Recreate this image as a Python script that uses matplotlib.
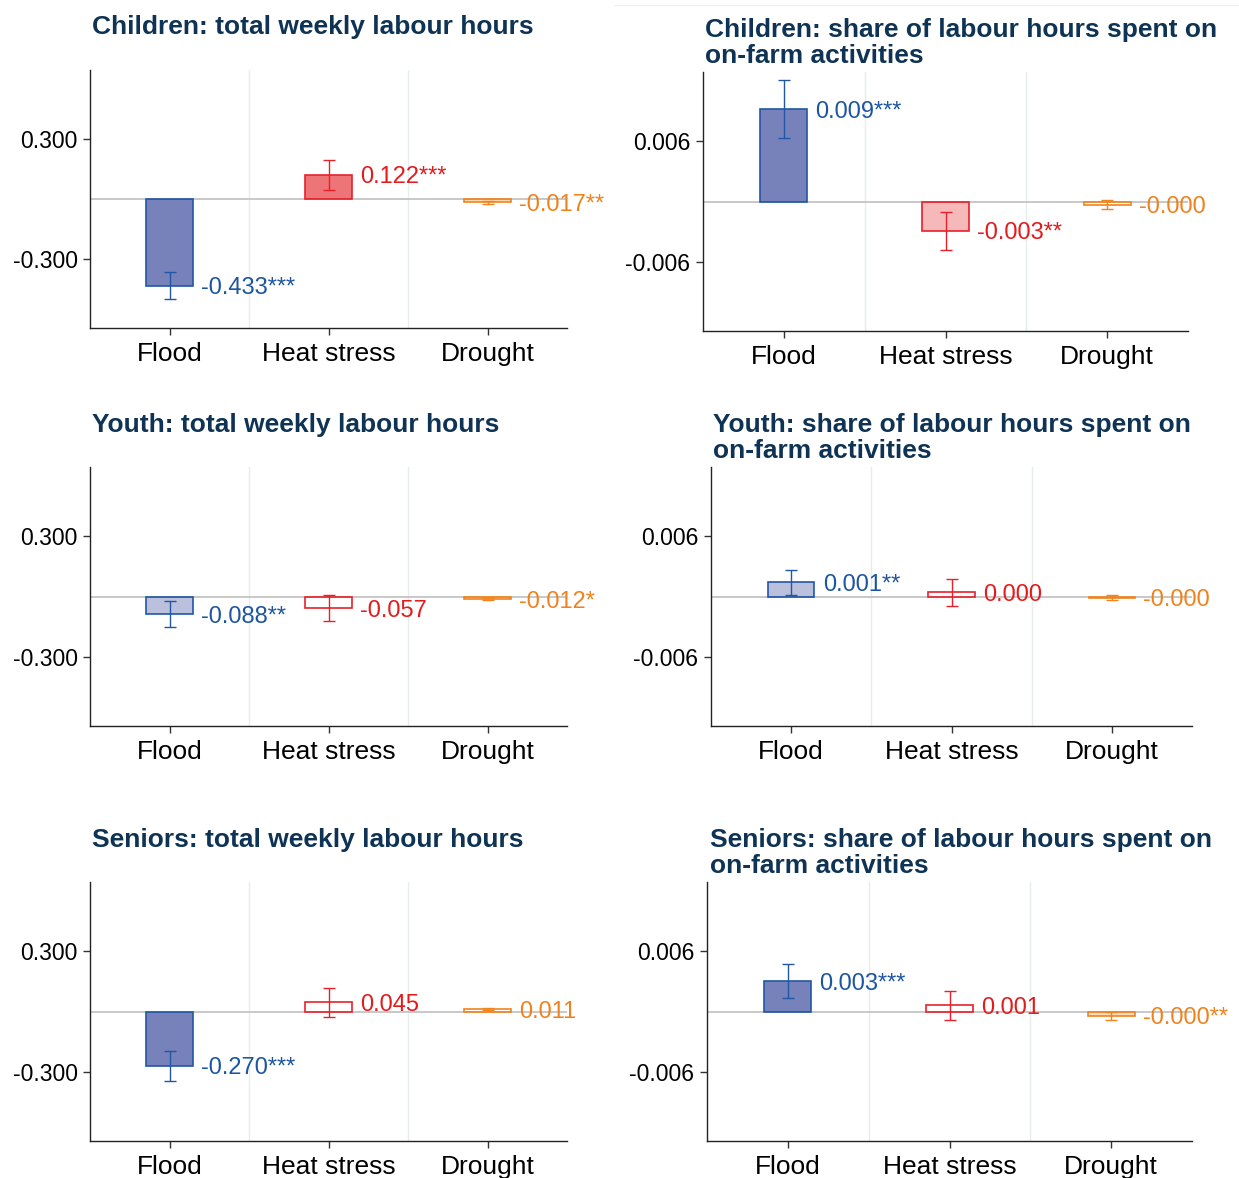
import matplotlib
matplotlib.use("Agg")
import matplotlib.pyplot as plt
from matplotlib.lines import Line2D

plt.rcParams['font.family'] = ['Liberation Sans', 'DejaVu Sans']

W, H = 1239, 1178

categories = ["Flood", "Heat stress", "Drought"]

titles = [
    "Children: total weekly labour hours",
    "Children: share of labour hours spent on\non-farm activities",
    "Youth: total weekly labour hours",
    "Youth: share of labour hours spent on\non-farm activities",
    "Seniors: total weekly labour hours",
    "Seniors: share of labour hours spent on\non-farm activities",
]

# coefficients, half-width of the confidence bars, significance stars
children_total = [-0.433, 0.122, -0.017]
children_total_ci = [0.067, 0.075, 0.008]
children_total_stars = ["***", "***", "**"]

children_share = [0.0092, -0.0029, -0.0003]
children_share_ci = [0.0029, 0.0019, 0.0004]
children_share_stars = ["***", "**", ""]

youth_total = [-0.088, -0.057, -0.012]
youth_total_ci = [0.065, 0.065, 0.006]
youth_total_stars = ["**", "", "*"]

youth_share = [0.0014, 0.0004, -0.0001]
youth_share_ci = [0.00125, 0.0013, 0.0002]
youth_share_stars = ["**", "", ""]

seniors_total = [-0.270, 0.045, 0.011]
seniors_total_ci = [0.075, 0.073, 0.006]
seniors_total_stars = ["***", "", ""]

seniors_share = [0.0030, 0.0006, -0.0004]
seniors_share_ci = [0.0017, 0.0014, 0.0004]
seniors_share_stars = ["***", "", "**"]

panels = [
    (children_total, children_total_ci, children_total_stars, 0.3),
    (children_share, children_share_ci, children_share_stars, 0.006),
    (youth_total, youth_total_ci, youth_total_stars, 0.3),
    (youth_share, youth_share_ci, youth_share_stars, 0.006),
    (seniors_total, seniors_total_ci, seniors_total_stars, 0.3),
    (seniors_share, seniors_share_ci, seniors_share_stars, 0.006),
]

# axes boxes in pixels: left, top, right, bottom
boxes = [
    (90, 70, 567, 328),
    (703, 72, 1188, 331),
    (90, 467, 567, 726),
    (711, 467, 1192, 726),
    (90, 882, 567, 1141),
    (707, 882, 1192, 1141),
]
title_pos = [(92, 27), (705, 43), (92, 425), (713, 438), (92, 840), (710, 853)]

edge_colors = ["#2157a4", "#e8202a", "#f0841e"]
fill_colors = ["#1f2f8c", "#e41a1c", "#f28a24"]
text_colors = ["#1d55a0", "#e41a1c", "#f0821e"]
star_alpha = {"***": 0.6, "**": 0.3, "*": 0.15, "": 0.0}
title_color = "#0e3354"

fig = plt.figure(figsize=(W / 100, H / 100), dpi=100)
fig.add_artist(Line2D([615 / W, 1], [1 - 5 / H, 1 - 5 / H], color="#efefef", lw=1))

for k, (vals, ci, stars, tick) in enumerate(panels):
    l, t, r, b = boxes[k]
    ax = fig.add_axes([l / W, 1 - b / H, (r - l) / W, (b - t) / H])
    x = range(len(categories))
    for i in x:
        ax.bar(i, vals[i], width=0.29, color=fill_colors[i], alpha=star_alpha[stars[i]],
               zorder=3, linewidth=0)
        ax.bar(i, vals[i], width=0.29, facecolor="none", edgecolor=edge_colors[i],
               linewidth=1.2, zorder=4)
        ax.errorbar(i, vals[i], yerr=ci[i], color=edge_colors[i], lw=1, capsize=4,
                    capthick=1, zorder=5)
        ax.annotate("{:.3f}".format(vals[i]) + stars[i], (i + 0.145, vals[i]),
                    xytext=(6, -2), textcoords="offset points", va="center", ha="left",
                    fontsize=17, color=text_colors[i], zorder=6, annotation_clip=False)
    ax.axhline(0, color="#c4c4c4", lw=1.3, zorder=2)
    for g in (0.5, 1.5):
        ax.axvline(g, color="#e6eded", lw=1, zorder=1)
    ax.set_xlim(-0.5, 2.5)
    ax.set_ylim(-2.15 * tick, 2.15 * tick)
    ax.set_xticks(list(x))
    ax.set_xticklabels(categories, fontsize=19)
    ax.set_yticks([-tick, tick])
    ax.set_yticklabels(["-{:.3f}".format(tick), "{:.3f}".format(tick)], fontsize=16.5)
    ax.tick_params(length=5, width=1, color="#333333", pad=4)
    ax.tick_params(axis="x", pad=5)
    for s in ("top", "right"):
        ax.spines[s].set_visible(False)
    for s in ("left", "bottom"):
        ax.spines[s].set_color("#222222")
        ax.spines[s].set_linewidth(1)
    tx, ty = title_pos[k]
    fig.text(tx / W, 1 - ty / H, titles[k], fontsize=19, fontweight="bold",
             color=title_color, ha="left", va="center", linespacing=1.12)

fig.savefig("out.png", dpi=100)
